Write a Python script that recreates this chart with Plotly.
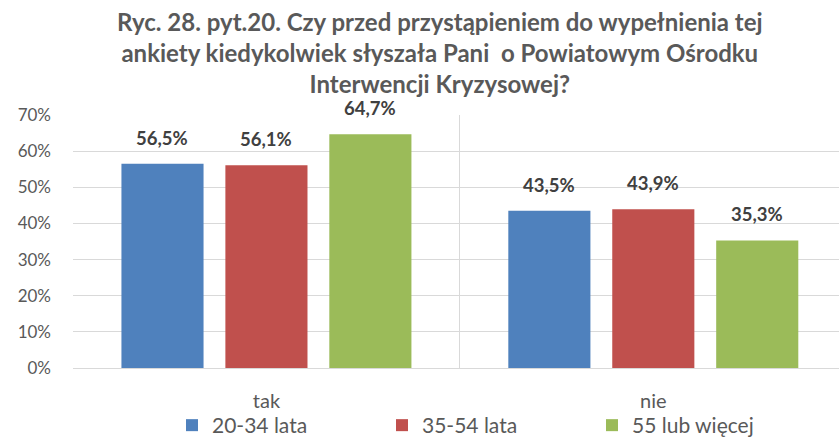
import plotly.graph_objects as go

categories = ["tak", "nie"]
series_names = ["20-34 lata", "35-54 lata", "55 lub więcej"]
v_20_34 = [56.5, 43.5]
v_35_54 = [56.1, 43.9]
v_55 = [64.7, 35.3]
colors = ["#4F81BD", "#C0504D", "#9BBB59"]
y_ticks = [0, 10, 20, 30, 40, 50, 60, 70]
y_tick_labels = ["0%", "10%", "20%", "30%", "40%", "50%", "60%", "70%"]
title_text = ("<b>Ryc. 28. pyt.20. Czy przed przystąpieniem do wypełnienia tej<br>"
              "ankiety kiedykolwiek słyszała Pani  o Powiatowym Ośrodku<br>"
              "Interwencji Kryzysowej?</b>")

FONT = "Lato, 'Open Sans', sans-serif"
# figure slightly taller than the 441px window so the legend's padding falls below view
W, H = 839, 452
PLOT_BOTTOM_PX = 368
ML, MR, MT = 73, 0, 115
MB = H - PLOT_BOTTOM_PX
X_RANGE = [-0.5, 1.48]
BARGAP, BARGROUPGAP = 0.194, 0.21

plot_w = W - ML - MR
plot_h = H - MT - MB
px_per_cat = plot_w / (X_RANGE[1] - X_RANGE[0])
slot_px = px_per_cat * (1 - BARGAP) / len(series_names)

fig = go.Figure()
all_vals = [v_20_34, v_35_54, v_55]
for name, vals, col in zip(series_names, all_vals, colors):
    fig.add_trace(go.Bar(
        x=categories, y=vals, name=name,
        marker=dict(color=col, line=dict(width=0)),
    ))

annotations = []
for i, vals in enumerate(all_vals):
    for cat, v in zip(categories, vals):
        annotations.append(dict(
            x=cat, y=v, xref="x", yref="y",
            text="<b>" + f"{v:.1f}%".replace(".", ",") + "</b>",
            showarrow=False, yanchor="bottom", xanchor="center",
            xshift=(i - (len(series_names) - 1) / 2) * slot_px, yshift=13,
            font=dict(family=FONT, size=18.5, color="#404040"),
        ))
title_center_px = 440
annotations.append(dict(
    x=(title_center_px - ML) / plot_w, xref="paper", xanchor="center",
    y=(PLOT_BOTTOM_PX - 5) / plot_h, yref="paper", yanchor="top",
    text=title_text, showarrow=False, align="center",
    font=dict(family=FONT, size=24, color="#595959"),
))

fig.update_layout(
    width=W, height=H,
    margin=dict(l=ML, r=MR, t=MT, b=MB),
    paper_bgcolor="white", plot_bgcolor="white",
    barmode="group", bargap=BARGAP, bargroupgap=BARGROUPGAP,
    font=dict(family=FONT, color="#595959", size=16),
    annotations=annotations,
    xaxis=dict(
        type="category", range=X_RANGE, tickson="boundaries",
        showgrid=True, gridcolor="#D9D9D9", gridwidth=1,
        showline=True, linecolor="#D9D9D9", linewidth=1,
        ticks="", ticklabelstandoff=15,
        tickfont=dict(size=20, color="#595959"),
    ),
    yaxis=dict(
        range=[0, 70], tickvals=y_ticks, ticktext=y_tick_labels,
        showgrid=True, gridcolor="#D9D9D9", gridwidth=1,
        zeroline=False, showline=False, ticks="", ticklabelstandoff=21,
        tickfont=dict(size=17, color="#595959"),
    ),
    legend=dict(orientation="h", x=(172 - ML) / plot_w, xanchor="left",
                y=-(MB - 6) / plot_h, yanchor="bottom",
                bgcolor="rgba(0,0,0,0)",
                entrywidth=165, entrywidthmode="pixels",
                font=dict(size=21, color="#595959"), itemwidth=30,
                traceorder="normal"),
    showlegend=True,
)

fig.write_html("out.html", config={"displayModeBar": False},
               post_script="document.body.style.margin='0';"
                           "document.body.style.overflow='hidden';")
